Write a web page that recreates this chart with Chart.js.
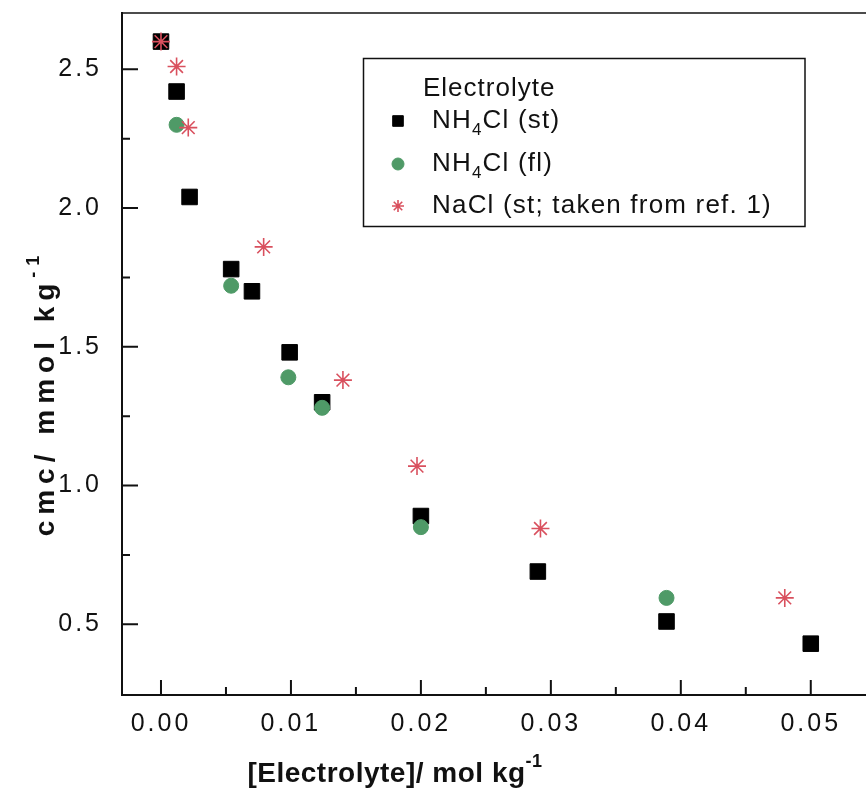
<!DOCTYPE html>
<html>
<head>
<meta charset="utf-8">
<script src="https://cdn.jsdelivr.net/npm/chart.js@4.4.0/dist/chart.umd.min.js"></script>
<style>
body{margin:0;background:#fff;overflow:hidden}
#wrap{width:866px;height:794px;position:relative}
</style>
</head>
<body>
<div id="wrap"><canvas id="chart"></canvas></div>
<script>
// NH4Cl, surface tension
var stX = [0, 0.0012, 0.0022, 0.0054, 0.0070, 0.0099, 0.0124, 0.0200, 0.0290, 0.0389, 0.0500];
var stY = [2.60, 2.42, 2.04, 1.78, 1.70, 1.48, 1.30, 0.89, 0.69, 0.51, 0.43];
// NH4Cl, fluorescence
var flX = [0.0012, 0.0054, 0.0098, 0.0124, 0.0200, 0.0389];
var flY = [2.30, 1.72, 1.39, 1.28, 0.85, 0.595];
// NaCl (st; ref. 1)
var naX = [0, 0.0012, 0.0021, 0.0079, 0.0140, 0.0197, 0.0292, 0.0480];
var naY = [2.60, 2.51, 2.29, 1.86, 1.38, 1.07, 0.845, 0.595];

var xTicks = [0, 0.01, 0.02, 0.03, 0.04, 0.05];
var yTicks = [0.5, 1.0, 1.5, 2.0, 2.5];

var FONT = '"Liberation Sans", Arial, sans-serif';
var GREEN = '#4f9a67', RED = '#d9505e';

function pts(xs, ys) {
    return xs.map(function (x, i) { return {x: x, y: ys[i]}; });
}

// draws text pieces one after another (for sub/superscripts)
function richWidth(ctx, parts, sp) {
    var w = 0;
    parts.forEach(function (p) { ctx.font = p.font; ctx.letterSpacing = sp; w += ctx.measureText(p.t).width; });
    return w;
}
function drawRich(ctx, parts, x, y, sp) {
    parts.forEach(function (p) {
        ctx.font = p.font;
        ctx.letterSpacing = sp;
        ctx.fillText(p.t, x, y + (p.dy || 0));
        x += ctx.measureText(p.t).width;
    });
}

var spacing = {
    id: 'spacing',
    beforeDraw: function (chart) { chart.ctx.letterSpacing = '3px'; }
};

// inward ticks + top frame line
var frame = {
    id: 'frame',
    afterDraw: function (chart) {
        var ctx = chart.ctx, a = chart.chartArea, sx = chart.scales.x, sy = chart.scales.y;
        ctx.save();
        ctx.strokeStyle = '#111';
        ctx.lineWidth = 2;
        ctx.beginPath();
        xTicks.forEach(function (v) {
            var p = sx.getPixelForValue(v);
            ctx.moveTo(p, a.bottom); ctx.lineTo(p, a.bottom - 15);
            var m = sx.getPixelForValue(v + 0.005);
            if (m < a.right) { ctx.moveTo(m, a.bottom); ctx.lineTo(m, a.bottom - 8); }
        });
        yTicks.forEach(function (v) {
            var p = sy.getPixelForValue(v);
            ctx.moveTo(a.left, p); ctx.lineTo(a.left + 16, p);
            var m = sy.getPixelForValue(v + 0.25);
            if (m > a.top) { ctx.moveTo(a.left, m); ctx.lineTo(a.left + 8, m); }
        });
        ctx.stroke();
        ctx.lineWidth = 1.5;
        ctx.beginPath();
        ctx.moveTo(a.left, a.top); ctx.lineTo(a.right, a.top);
        ctx.stroke();
        ctx.restore();
    }
};

var titles = {
    id: 'titles',
    afterDraw: function (chart) {
        var ctx = chart.ctx;
        ctx.save();
        ctx.fillStyle = '#111';
        ctx.textBaseline = 'alphabetic';
        ctx.textAlign = 'left';
        var xt = [
            {t: '[Electrolyte]/ mol kg', font: 'bold 28px ' + FONT},
            {t: '-1', font: 'bold 18px ' + FONT, dy: -15}
        ];
        var w = richWidth(ctx, xt, '0.5px');
        drawRich(ctx, xt, 395 - w / 2, 782, '0.5px');

        var yt = [
            {t: 'cmc/ mmol kg', font: 'bold 28px ' + FONT},
            {t: '-1', font: 'bold 18px ' + FONT, dy: -15}
        ];
        ctx.translate(54, 393);
        ctx.rotate(-Math.PI / 2);
        w = richWidth(ctx, yt, '6px');
        drawRich(ctx, yt, -w / 2, 0, '6px');
        ctx.restore();
    }
};

var legendBox = {
    id: 'legendBox',
    afterDraw: function (chart) {
        var ctx = chart.ctx;
        var ds = chart.data.datasets;
        ctx.save();
        ctx.strokeStyle = '#111';
        ctx.lineWidth = 1.5;
        ctx.strokeRect(363.5, 58.5, 441.5, 168);
        ctx.fillStyle = '#111';
        ctx.textBaseline = 'middle';
        ctx.textAlign = 'left';
        drawRich(ctx, [{t: 'Electrolyte', font: '26px ' + FONT}], 423, 89, '1px');

        var rows = [
            {y: 121, r: 7.5, parts: [{t: 'NH', font: '26px ' + FONT}, {t: '4', font: '17px ' + FONT, dy: 9}, {t: 'Cl (st)', font: '26px ' + FONT}]},
            {y: 164, r: 6, parts: [{t: 'NH', font: '26px ' + FONT}, {t: '4', font: '17px ' + FONT, dy: 9}, {t: 'Cl (fl)', font: '26px ' + FONT}]},
            {y: 206, r: 6, parts: [{t: 'NaCl (st; taken from ref. 1)', font: '26px ' + FONT}]}
        ];
        rows.forEach(function (row, i) {
            var d = ds[i];
            ctx.fillStyle = d.backgroundColor;
            ctx.strokeStyle = d.borderColor;
            ctx.lineWidth = d.borderWidth;
            Chart.helpers.drawPoint(ctx, {pointStyle: d.pointStyle, radius: row.r, borderWidth: d.borderWidth, rotation: 0}, 398, row.y);
            ctx.fillStyle = '#111';
            drawRich(ctx, row.parts, 432, row.y, '1.2px');
        });
        ctx.restore();
    }
};

var ctx = document.getElementById('chart').getContext('2d');
var myChart = new Chart(ctx, {
    type: 'scatter',
    data: {
        datasets: [{
            label: 'NH4Cl (st)',
            data: pts(stX, stY),
            pointStyle: 'rect',
            pointRadius: 11,
            backgroundColor: '#000',
            borderColor: '#000',
            borderWidth: 1,
            order: 3
        }, {
            label: 'NH4Cl (fl)',
            data: pts(flX, flY),
            pointStyle: 'circle',
            pointRadius: 7.5,
            backgroundColor: GREEN,
            borderColor: GREEN,
            borderWidth: 1,
            order: 2
        }, {
            label: 'NaCl (st; taken from ref. 1)',
            data: pts(naX, naY),
            pointStyle: 'star',
            pointRadius: 9,
            backgroundColor: RED,
            borderColor: RED,
            borderWidth: 1.6,
            order: 1
        }]
    },
    options: {
        responsive: true,
        maintainAspectRatio: false,
        animation: false,
        layout: {autoPadding: false, padding: {left: 0, top: 13, right: 0, bottom: 0}},
        plugins: {legend: {display: false}, tooltip: {enabled: false}},
        scales: {
            x: {
                type: 'linear',
                min: -0.003,
                max: 0.05425,
                afterBuildTicks: function (s) { s.ticks = xTicks.map(function (v) { return {value: v}; }); },
                afterFit: function (s) { s.height = 99; s.paddingLeft = 0; s.paddingRight = 0; },
                grid: {display: false},
                border: {display: true, color: '#111', width: 2},
                ticks: {color: '#111', font: {family: FONT, size: 25}, padding: 6, maxRotation: 0, autoSkip: false,
                    callback: function (v) { return v.toFixed(2); }}
            },
            y: {
                min: 0.245,
                max: 2.703,
                afterBuildTicks: function (s) { s.ticks = yTicks.map(function (v) { return {value: v}; }); },
                afterFit: function (s) { s.width = 122; s.paddingTop = 0; s.paddingBottom = 0; },
                grid: {display: false},
                border: {display: true, color: '#111', width: 2},
                ticks: {color: '#111', font: {family: FONT, size: 25}, padding: 12,
                    callback: function (v) { return v.toFixed(1); }}
            }
        }
    },
    plugins: [spacing, frame, titles, legendBox]
});
</script>
</body>
</html>
